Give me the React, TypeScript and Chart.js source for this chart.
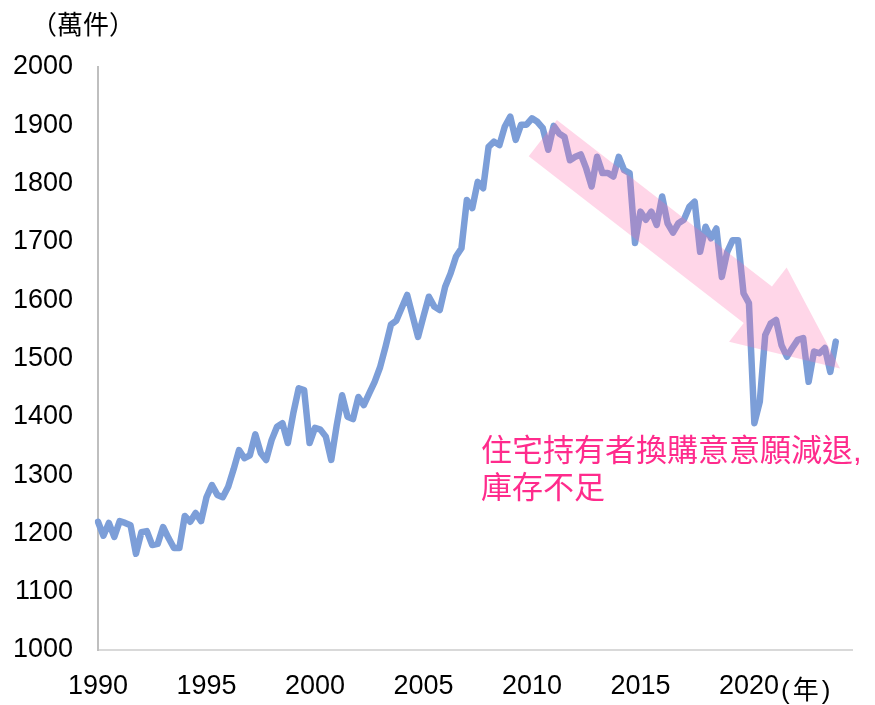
import React, { useEffect, useRef } from "react";
import { Chart, registerables } from "chart.js";

Chart.register(...registerables);

// Quarterly series, 1990Q1 onward (unit: 萬件)
const startYear = 1990;
const quarterLabels: string[] = [];
for (let y = 1990; y <= 2024; y++) {
  for (let q = 1; q <= 4; q++) quarterLabels.push(`${y}Q${q}`);
}

const values1990s = [
  1220, 1196, 1218, 1194,
  1221, 1218, 1214, 1165,
  1202, 1204, 1180, 1182,
  1211, 1192, 1175, 1175,
  1230, 1220, 1235, 1221,
  1262, 1283, 1266, 1262,
  1280, 1310, 1343, 1329,
  1334, 1370, 1338, 1326,
  1360, 1383, 1389, 1355,
  1406, 1449, 1446, 1355,
];
const values2000s = [
  1381, 1378, 1366, 1326,
  1385, 1437, 1400, 1396,
  1434, 1420, 1440, 1460,
  1485, 1520, 1558, 1565,
  1587, 1609, 1573, 1537,
  1572, 1606, 1589, 1583,
  1623, 1646, 1675, 1689,
  1772, 1758, 1803, 1792,
  1863, 1872, 1866, 1898,
  1915, 1875, 1901, 1901,
];
const values2010s = [
  1912, 1906, 1895, 1858,
  1899, 1886, 1880, 1840,
  1846, 1850, 1826, 1795,
  1846, 1818, 1818, 1812,
  1846, 1823, 1818, 1698,
  1752, 1738, 1752, 1729,
  1778, 1732, 1716, 1732,
  1738, 1760, 1769, 1683,
  1726, 1706, 1723, 1640,
  1683, 1703, 1703, 1612,
];
const values2020s = [
  1595, 1389, 1426, 1540,
  1560, 1566, 1523, 1503,
  1518, 1532, 1535, 1460,
  1512, 1509, 1518, 1477,
  1529,
];
const seriesValues = [...values1990s, ...values2000s, ...values2010s, ...values2020s];

const yMin = 1000;
const yMax = 2000;
const yStep = 100;
const labelEveryYears = 5;
const lastLabelYear = 2020;

// Trend arrow annotation (category index, value)
const arrowTail = { x: 82.0, y: 1878 };
const arrowTip = { x: 136.8, y: 1483 };

const annotationLines = ["住宅持有者換購意意願減退,", "庫存不足"];
const yUnitLabel = "（萬件）";
const xUnitLabel = "(年)";

const arrowPlugin = {
  id: "trendArrow",
  afterDatasetsDraw(chart: any) {
    const { ctx, scales } = chart;
    const x = scales.x;
    const y = scales.y;
    const tx = x.getPixelForValue(arrowTail.x);
    const ty = y.getPixelForValue(arrowTail.y);
    const hx = x.getPixelForValue(arrowTip.x);
    const hy = y.getPixelForValue(arrowTip.y);
    const dx = hx - tx;
    const dy = hy - ty;
    const len = Math.hypot(dx, dy);
    const ux = dx / len;
    const uy = dy / len;
    const px = -uy;
    const py = ux;
    const shaftHalf = 23;
    const headHalf = 47;
    const headLen = 104;
    const bx = hx - ux * headLen;
    const by = hy - uy * headLen;
    ctx.save();
    ctx.beginPath();
    ctx.moveTo(tx + px * shaftHalf, ty + py * shaftHalf);
    ctx.lineTo(bx + px * shaftHalf, by + py * shaftHalf);
    ctx.lineTo(bx + px * headHalf, by + py * headHalf);
    ctx.lineTo(hx, hy);
    ctx.lineTo(bx - px * headHalf, by - py * headHalf);
    ctx.lineTo(bx - px * shaftHalf, by - py * shaftHalf);
    ctx.lineTo(tx - px * shaftHalf, ty - py * shaftHalf);
    ctx.closePath();
    ctx.fillStyle = "rgba(255, 102, 170, 0.27)";
    ctx.fill();
    ctx.restore();
  },
};

export default function App() {
  const canvasRef = useRef<HTMLCanvasElement | null>(null);

  useEffect(() => {
    document.body.style.margin = "0";
    const canvas = canvasRef.current;
    if (!canvas) return;
    const tickFont = { family: "'Liberation Sans', Arial, sans-serif", size: 27 };
    const chart = new Chart(canvas, {
      type: "line",
      data: {
        labels: quarterLabels,
        datasets: [
          {
            data: seriesValues,
            borderColor: "#7C9ED8",
            borderWidth: 6.5,
            pointRadius: 0,
            tension: 0,
            borderJoinStyle: "round",
            borderCapStyle: "round",
            fill: false,
          },
        ],
      },
      options: {
        animation: false,
        responsive: false,
        maintainAspectRatio: false,
        layout: { padding: { left: 0, right: 23, top: 67, bottom: 0 } },
        plugins: {
          legend: { display: false },
          tooltip: { enabled: false },
        },
        scales: {
          x: {
            type: "category",
            offset: false,
            grid: { display: false, drawTicks: false },
            border: { display: true, color: "#D9D9D9", width: 2 },
            afterFit: (scale: any) => {
              scale.height = 55;
            },
            ticks: {
              autoSkip: false,
              maxRotation: 0,
              minRotation: 0,
              padding: 20,
              color: "#000",
              font: tickFont,
              callback: (_v: any, index: number) => {
                const lab = quarterLabels[index];
                const yr = parseInt(lab.slice(0, 4), 10);
                const q = lab.slice(5);
                if (q === "1" && (yr - startYear) % labelEveryYears === 0 && yr <= lastLabelYear) {
                  return String(yr);
                }
                return "";
              },
            },
          },
          y: {
            min: yMin,
            max: yMax,
            grid: { display: false, drawTicks: false },
            border: { display: true, color: "#BFBFBF", width: 2 },
            afterFit: (scale: any) => {
              scale.width = 98;
            },
            ticks: {
              stepSize: yStep,
              padding: 25,
              color: "#000",
              font: tickFont,
              callback: (v: any) => String(v),
            },
          },
        },
      },
      plugins: [arrowPlugin],
    });
    return () => chart.destroy();
  }, []);

  const cjk = "'Liberation Sans', 'Noto Sans CJK TC', 'Noto Sans CJK SC', sans-serif";

  return (
    <div style={{ position: "absolute", left: 0, top: 0, width: 875, height: 705, background: "#fff" }}>
      <canvas ref={canvasRef} width={875} height={705} style={{ position: "absolute", left: 0, top: 0 }} />
      <div
        style={{
          position: "absolute",
          left: 31,
          top: 8,
          fontFamily: cjk,
          fontSize: 26,
          lineHeight: "34px",
          color: "#000",
          whiteSpace: "nowrap",
        }}
      >
        {yUnitLabel}
      </div>
      <div
        style={{
          position: "absolute",
          left: 781,
          top: 673,
          fontFamily: cjk,
          fontSize: 26,
          lineHeight: "34px",
          letterSpacing: "3px",
          color: "#000",
          whiteSpace: "nowrap",
        }}
      >
        {xUnitLabel}
      </div>
      <div
        style={{
          position: "absolute",
          left: 481,
          top: 432,
          fontFamily: cjk,
          fontSize: 31,
          lineHeight: "37px",
          color: "#FF2B8C",
          whiteSpace: "nowrap",
        }}
      >
        {annotationLines.map((l, i) => (
          <div key={i}>{l}</div>
        ))}
      </div>
    </div>
  );
}
